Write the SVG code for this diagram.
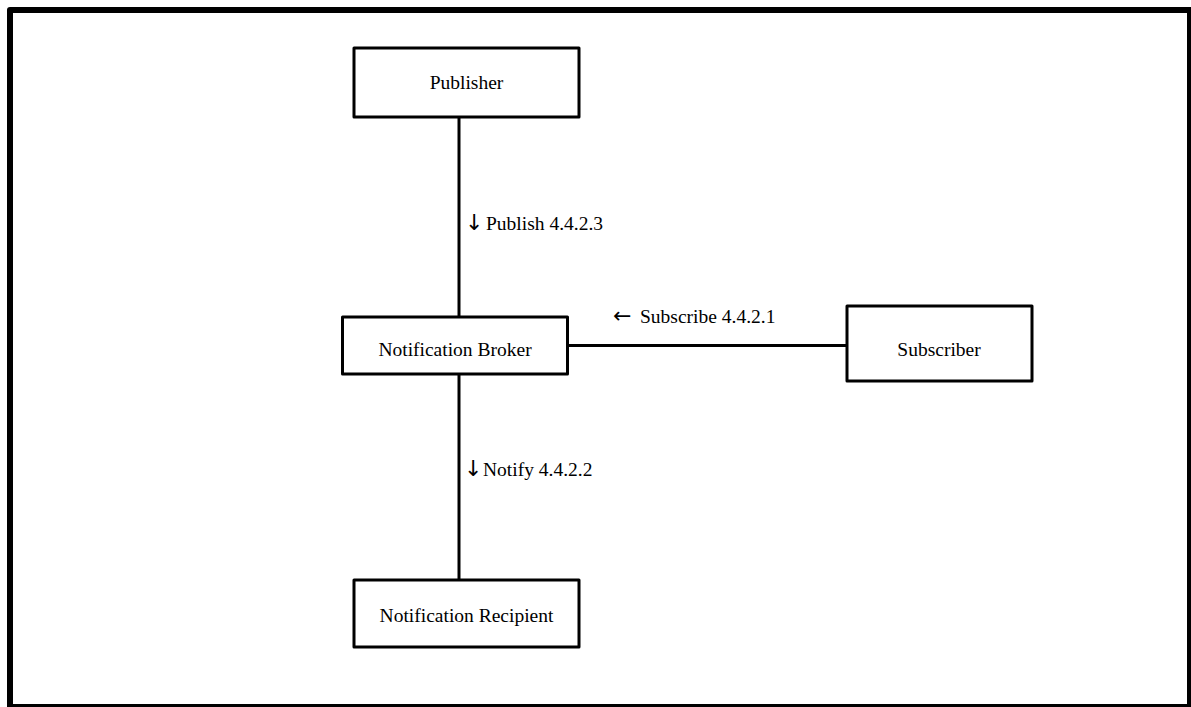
<svg xmlns="http://www.w3.org/2000/svg" width="1191" height="707" viewBox="0 0 1191 707">
<style>
.box{fill:#fff;stroke:#000;stroke-width:3;stroke-linejoin:round}
.lbl{font-family:"Liberation Serif","Times New Roman",serif;font-size:19.5px;fill:#000}
.arr{font-family:"DejaVu Sans","Liberation Sans",sans-serif;font-size:22px;fill:#000}
.c{text-anchor:middle}
.conn{stroke:#000;stroke-width:3;fill:none}
</style>
<rect x="0" y="0" width="1191" height="707" fill="#fff"/>
<rect x="10" y="10" width="1180" height="697" fill="none" stroke="#000" stroke-width="6" stroke-linejoin="round"/>
<g id="connectors">
<line class="conn" x1="459" y1="117" x2="459" y2="317"/>
<line class="conn" x1="459" y1="374" x2="459" y2="580"/>
<line class="conn" x1="568" y1="345.5" x2="847" y2="345.5"/>
<text class="lbl" x="465" y="230"><tspan class="arr">↓</tspan><tspan x="486">Publish 4.4.2.3</tspan></text>
<text class="lbl" x="613" y="323"><tspan class="arr">←</tspan><tspan x="640">Subscribe 4.4.2.1</tspan></text>
<text class="lbl" x="464" y="476"><tspan class="arr">↓</tspan><tspan x="483">Notify 4.4.2.2</tspan></text>
</g>
<g id="publisher">
<rect class="box" x="354" y="48" width="225" height="69"/>
<text class="lbl c" x="466.5" y="89">Publisher</text>
</g>
<g id="broker">
<rect class="box" x="342.5" y="317" width="225" height="57"/>
<text class="lbl c" x="455" y="356">Notification Broker</text>
</g>
<g id="subscriber">
<rect class="box" x="847" y="306" width="185" height="75"/>
<text class="lbl c" x="939" y="356">Subscriber</text>
</g>
<g id="recipient">
<rect class="box" x="354" y="580" width="225" height="67"/>
<text class="lbl c" x="466.5" y="622">Notification Recipient</text>
</g>
</svg>
